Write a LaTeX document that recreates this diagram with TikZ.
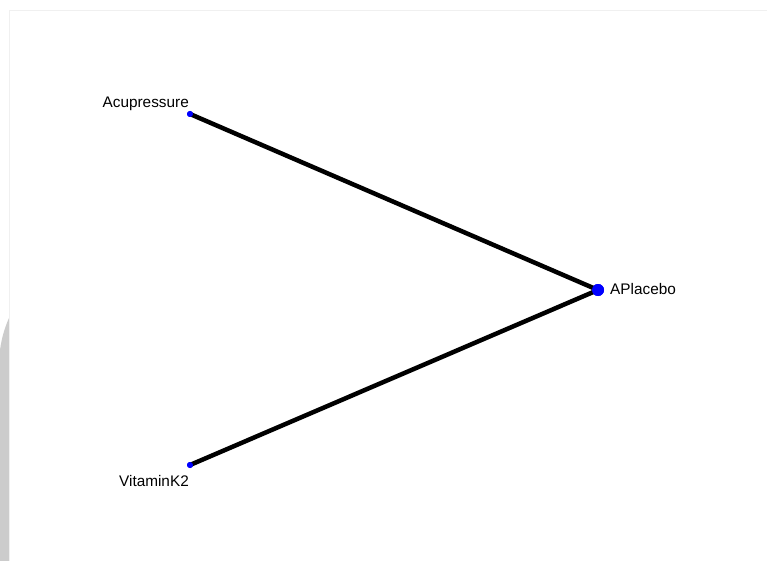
\documentclass[tikz,border=0pt]{standalone}
\usepackage{fontspec}
\setmainfont{Liberation Sans}
\begin{document}
\begin{tikzpicture}[x=1bp,y=-1bp,
  edge/.style={line width=4.5bp,black},
  smalldot/.style={circle,fill=blue,inner sep=0pt,minimum size=6bp},
  bigdot/.style={circle,fill=blue,inner sep=0pt,minimum size=12bp},
  lbl/.style={inner sep=0pt,font=\fontsize{15.4}{18}\selectfont}]
\useasboundingbox[fill=white] (0,0) rectangle (767,561);
% faint frame and grey side strip
\fill[gray!40] (0,561) -- (0,350) .. controls (2,335) and (6,325) .. (9,318) -- (9,561) -- cycle;
\draw[black!6,line width=0.8bp] (9.5,561) -- (9.5,10) -- (767,10);
% nodes
\node[smalldot] (acu) at (190,114) {};
\node[bigdot] (pla) at (598,290) {};
\node[smalldot] (vit) at (190,465) {};
% connectors
\draw[edge] (acu.center) -- (pla.center);
\draw[edge] (vit.center) -- (pla.center);
\node[bigdot] at (pla) {};
\node[smalldot] at (acu) {};
\node[smalldot] at (vit) {};
% labels
\node[lbl,anchor=base east] (acul) at (189,108) {Acupressure};
\node[lbl,anchor=base west] (plal) at (610,295) {APlacebo};
\node[lbl,anchor=base east] (vitl) at (189,486.5) {VitaminK2};
\end{tikzpicture}
\end{document}
